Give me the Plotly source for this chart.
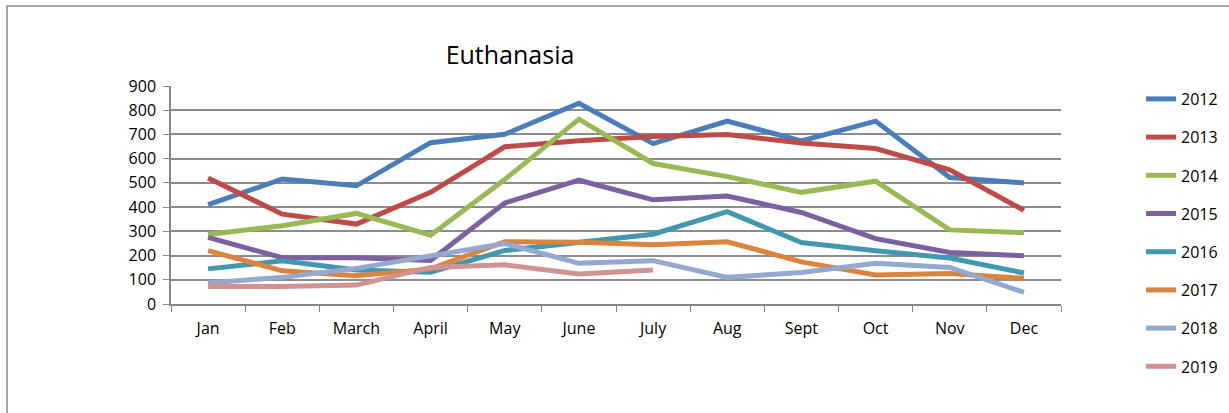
import plotly.graph_objects as go

months = ["Jan", "Feb", "March", "April", "May", "June", "July", "Aug", "Sept", "Oct", "Nov", "Dec"]
y2012 = [410, 516, 488, 666, 701, 829, 662, 755, 673, 755, 522, 500]
y2013 = [520, 371, 330, 461, 649, 674, 691, 700, 665, 642, 554, 387]
y2014 = [287, 323, 374, 284, 514, 763, 580, 526, 461, 507, 306, 294]
y2015 = [275, 191, 191, 180, 417, 511, 430, 446, 378, 270, 213, 199]
y2016 = [145, 178, 140, 131, 221, 254, 288, 381, 254, 220, 190, 128]
y2017 = [220, 137, 117, 145, 257, 255, 245, 257, 174, 120, 126, 106]
y2018 = [87, 110, 147, 199, 250, 168, 179, 110, 130, 168, 151, 48]
y2019 = [72, 72, 78, 151, 162, 124, 140]

series = [
    ("2012", y2012, "#4A7EBB"),
    ("2013", y2013, "#BE4B48"),
    ("2014", y2014, "#98B954"),
    ("2015", y2015, "#7D60A0"),
    ("2016", y2016, "#4198AF"),
    ("2017", y2017, "#DB843D"),
    ("2018", y2018, "#93A9CF"),
    ("2019", y2019, "#D19392"),
]

fig = go.Figure()
for name, vals, color in series:
    fig.add_trace(go.Scatter(
        x=months[:len(vals)], y=vals, name=name, mode="lines",
        line=dict(color=color, width=5), legendgroup=name,
    ))

W, H = 1229, 413
L, R, T, B = 171, 1061, 86, 304
pw, ph = R - L, B - T

def px(x):
    return (x - L) / pw

def py(y):
    return (B - y) / ph

fig.update_layout(
    width=W, height=H,
    margin=dict(l=L, r=W - R, t=T, b=H - B, autoexpand=False),
    paper_bgcolor="white", plot_bgcolor="white",
    font=dict(family="Open Sans, Noto Sans, sans-serif", size=16, color="#000000"),
    title=dict(text="Euthanasia", x=510 / W, xanchor="center", y=1 - 55 / H, yanchor="middle",
               font=dict(size=25, color="#000000")),
    showlegend=True,
    legend=dict(x=px(1141), xanchor="left", y=py(82), yanchor="top",
                font=dict(size=16), tracegroupgap=14.4, bgcolor="rgba(0,0,0,0)",
                maxheight=400),
    shapes=[dict(type="rect", xref="paper", yref="paper",
                 x0=px(7), x1=px(1236), y0=py(430), y1=py(6),
                 line=dict(color="#8C8C8C", width=1.5), layer="below")],
)
fig.update_xaxes(
    type="category", range=[-0.5, 11.5], tickson="boundaries",
    ticks="outside", ticklen=6, tickcolor="#868686",
    showline=True, linecolor="#868686", linewidth=1.5,
    showgrid=False, ticklabelstandoff=9,
)
fig.update_yaxes(
    range=[0, 900], dtick=100, tick0=0,
    ticks="outside", ticklen=6, tickcolor="#868686",
    showline=True, linecolor="#868686", linewidth=1.5,
    showgrid=True, gridcolor="#8C8C8C", gridwidth=1.5,
    zeroline=False, ticklabelstandoff=4,
)
fig.write_html("out.html", config={"displayModeBar": False},
               post_script="document.body.style.margin='0px';document.body.style.padding='0px';")
